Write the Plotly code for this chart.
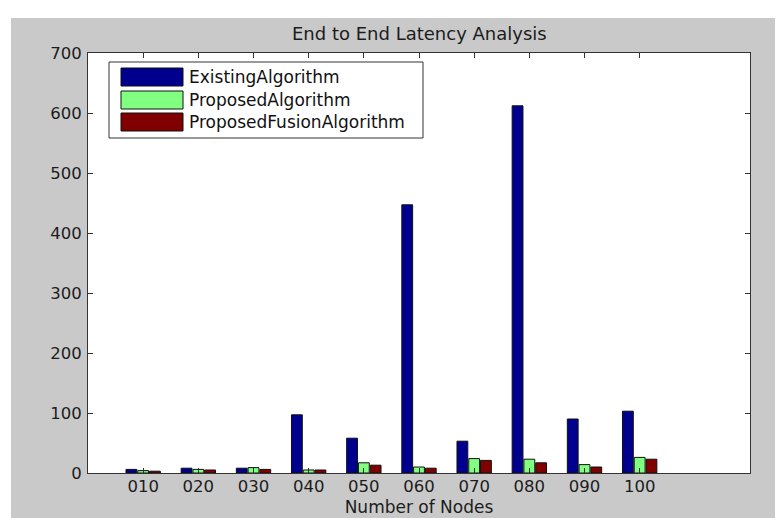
import plotly.graph_objects as go

categories = ["010", "020", "030", "040", "050", "060", "070", "080", "090", "100"]
existing = [6, 8, 8, 97, 58, 447, 53, 612, 90, 103]
proposed = [4, 6, 9, 5, 17, 10, 24, 23, 14, 26]
fusion = [3, 5, 6, 5, 13, 8, 21, 17, 10, 23]
series_names = ["ExistingAlgorithm", "ProposedAlgorithm", "ProposedFusionAlgorithm"]
series_colors = ["#00008F", "#80FF80", "#800000"]
y_ticks = [0, 100, 200, 300, 400, 500, 600, 700]

# page body has an 8px margin: work in screen pixels and shift into figure pixels
OFF = 8
W, H = 783 - OFF, 518 - OFF
L, R, T, B = 88 - OFF, 783 - 750, 53 - OFF, 518 - 473
PW, PH = W - L - R, H - T - B

def px(x):  # screen x -> paper
    return (x - OFF - L) / PW

def py(y):  # screen y -> paper
    return (H - B - (y - OFF)) / PH

FONT = "DejaVu Sans"
TXT = "#1c1c1c"
GREY = "#C9C9C9"

fig = go.Figure()
for name, vals, col in zip(series_names, [existing, proposed, fusion], series_colors):
    fig.add_trace(go.Bar(
        x=categories, y=vals, name=name,
        marker=dict(color=col, line=dict(color="#111111", width=1)),
        showlegend=False,
    ))

shapes = [
    # white strips at top and left (outside the grey figure area)
    dict(type="rect", xref="paper", yref="paper", x0=px(0), x1=px(800), y0=py(18), y1=py(0),
         fillcolor="white", line=dict(width=0), layer="below"),
    dict(type="rect", xref="paper", yref="paper", x0=px(0), x1=px(11), y0=py(530), y1=py(0),
         fillcolor="white", line=dict(width=0), layer="below"),
    # legend box
    dict(type="rect", xref="paper", yref="paper", x0=px(109), x1=px(423), y0=py(138), y1=py(62),
         fillcolor="white", line=dict(color="#333333", width=1)),
]
annotations = []
row_y = [77, 100, 122]
for name, col, yc in zip(series_names, series_colors, row_y):
    shapes.append(dict(type="rect", xref="paper", yref="paper",
                       x0=px(121), x1=px(183), y0=py(yc + 9), y1=py(yc - 9),
                       fillcolor=col, line=dict(color="#111111", width=1)))
    annotations.append(dict(xref="paper", yref="paper", x=px(187), y=py(yc),
                            xanchor="left", yanchor="middle", text=name, showarrow=False,
                            font=dict(family=FONT, size=17, color="#111111")))

annotations.append(dict(xref="paper", yref="paper", x=0.5, y=py(34), xanchor="center",
                        yanchor="middle", text="End to End Latency Analysis", showarrow=False,
                        font=dict(family=FONT, size=18, color=TXT)))

fig.update_layout(
    width=W, height=H,
    margin=dict(l=L, r=R, t=T, b=B, pad=0, autoexpand=False),
    paper_bgcolor=GREY, plot_bgcolor="white",
    barmode="group", bargap=0.36, bargroupgap=0.08,
    shapes=shapes, annotations=annotations,
    font=dict(family=FONT, size=16.5, color=TXT),
    xaxis=dict(
        type="category", range=[-1, 11], automargin=False,
        showline=True, linecolor="#333333", linewidth=1, mirror="ticks",
        ticks="inside", ticklen=5, tickcolor="#333333",
        showgrid=False, zeroline=False, ticklabelstandoff=-2,
        tickfont=dict(family=FONT, size=16.5, color=TXT),
        title=dict(text="Number of Nodes", standoff=6,
                   font=dict(family=FONT, size=17, color=TXT)),
    ),
    yaxis=dict(
        range=[0, 700], tickvals=y_ticks, automargin=False,
        showline=True, linecolor="#333333", linewidth=1, mirror="ticks",
        ticks="inside", ticklen=5, tickcolor="#333333",
        showgrid=False, zeroline=False, ticklabelstandoff=2,
        tickfont=dict(family=FONT, size=16.5, color=TXT),
    ),
)

fig.write_html("out.html")
